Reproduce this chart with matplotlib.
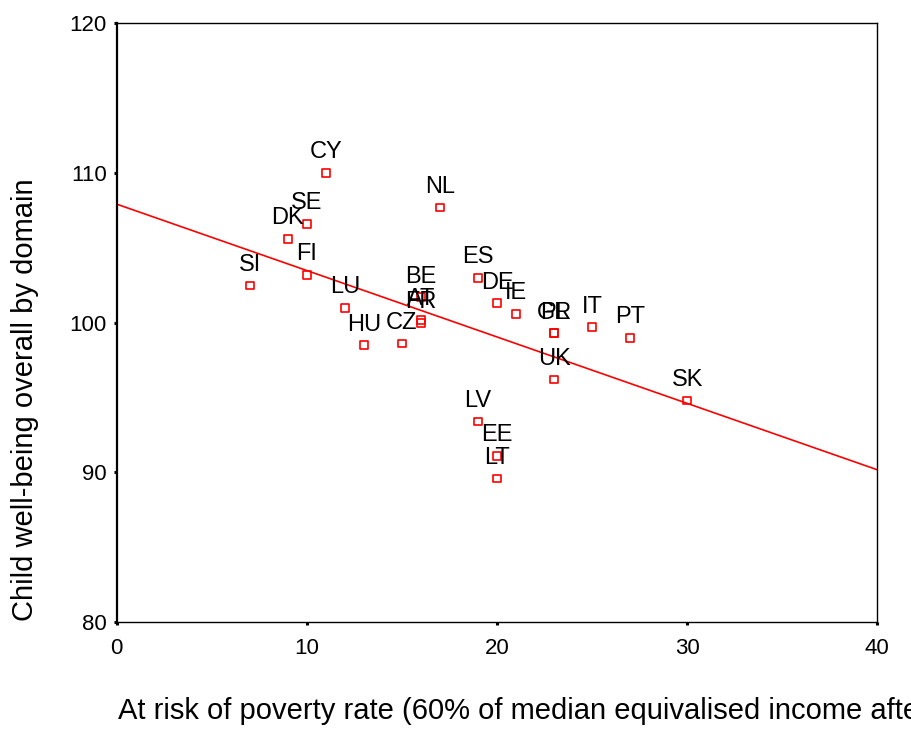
import numpy as np
import matplotlib
matplotlib.use('Agg')
import matplotlib.pyplot as plt

plt.rcParams['font.family'] = ['Liberation Sans', 'DejaVu Sans']

# country codes, poverty rate (x), child well-being (y)
countries = ['SI', 'DK', 'SE', 'FI', 'CY', 'LU', 'HU', 'CZ', 'BE', 'AT', 'FR',
             'NL', 'ES', 'LV', 'DE', 'EE', 'LT', 'IE', 'PL', 'GR', 'UK', 'IT',
             'PT', 'SK']
poverty = [7, 9, 10, 10, 11, 12, 13, 15, 16, 16, 16,
           17, 19, 19, 20, 20, 20, 21, 23, 23, 23, 25,
           27, 30]
wellbeing = [102.5, 105.6, 106.6, 103.2, 110.0, 101.0, 98.5, 98.6, 101.7, 100.2, 100.0,
             107.7, 103.0, 93.4, 101.3, 91.1, 89.6, 100.6, 99.3, 99.3, 96.2, 99.7,
             99.0, 94.8]

xlabel = 'At risk of poverty rate (60% of median equivalised income after social transfers)'
ylabel = 'Child well-being overall by domain'

fig = plt.figure(figsize=(9.12, 7.31), dpi=100)
ax = fig.add_axes([0.128, 0.149, 0.834, 0.819])

# linear fit line across full x range
slope, intercept = np.polyfit(poverty, wellbeing, 1)
xs = np.array([0, 40])
ax.plot(xs, intercept + slope * xs, color='red', lw=1.2)

ax.scatter(poverty, wellbeing, marker='s', s=30, facecolors='none',
           edgecolors='red', linewidths=1.2, zorder=3)

for name, x, y in zip(countries, poverty, wellbeing):
    ax.annotate(name, (x, y), xytext=(0, 10.5), textcoords='offset points',
                ha='center', va='baseline', fontsize=17)

ax.set_xlim(0, 40)
ax.set_ylim(80, 120)
ax.set_xticks([0, 10, 20, 30, 40])
ax.set_yticks([80, 90, 100, 110, 120])
ax.tick_params(direction='out', length=2.2, width=2.2, labelsize=16)
ax.tick_params(axis='x', pad=9)
ax.tick_params(axis='y', pad=5)
for sp in ax.spines.values():
    sp.set_linewidth(1.0)
ax.spines['left'].set_linewidth(1.6)

fig.text(0.027, 0.453, ylabel, fontsize=21, rotation=90, ha='center', va='center')
fig.text(0.129, 0.0164, xlabel, fontsize=21, ha='left', va='baseline')

fig.savefig('out.png', dpi=100)
